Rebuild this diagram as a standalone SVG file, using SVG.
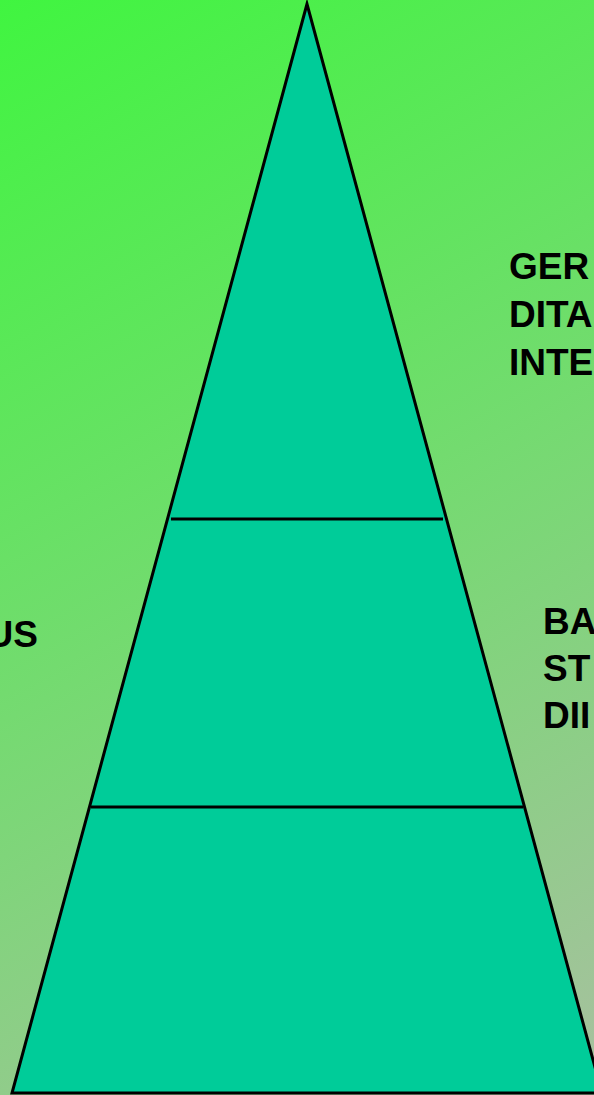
<svg xmlns="http://www.w3.org/2000/svg" width="594" height="1095" viewBox="0 0 594 1095">
<defs>
<linearGradient id="bg" gradientUnits="userSpaceOnUse" x1="0" y1="0" x2="594" y2="1095">
<stop offset="0" stop-color="#40f540"/>
<stop offset="1" stop-color="#a8c0a0"/>
</linearGradient>
</defs>
<style>
.lbl{font-family:"Liberation Sans",Arial,sans-serif;font-weight:bold;font-size:37px;fill:#000}
.edge{stroke:#000;stroke-width:3;fill:none}
</style>
<rect width="594" height="1095" fill="url(#bg)"/>
<g id="pyramid">
<polygon points="307,4 12,1093 602,1093" fill="#00cc99" stroke="#000" stroke-width="3"/>
</g>
<g id="connectors">
<line class="edge" x1="171" y1="519" x2="443" y2="519"/>
<line class="edge" x1="91" y1="807" x2="523" y2="807"/>
</g>
<g id="label-top">
<text class="lbl" x="509" y="279">GER</text>
<text class="lbl" x="509" y="327">DITA</text>
<text class="lbl" x="509" y="375">INTE</text>
</g>
<g id="label-mid">
<text class="lbl" x="543" y="634">BA</text>
<text class="lbl" x="543" y="681">ST</text>
<text class="lbl" x="543" y="728">DII</text>
</g>
<g id="label-left">
<text class="lbl" x="38" y="647" text-anchor="end">US</text>
</g>
</svg>
